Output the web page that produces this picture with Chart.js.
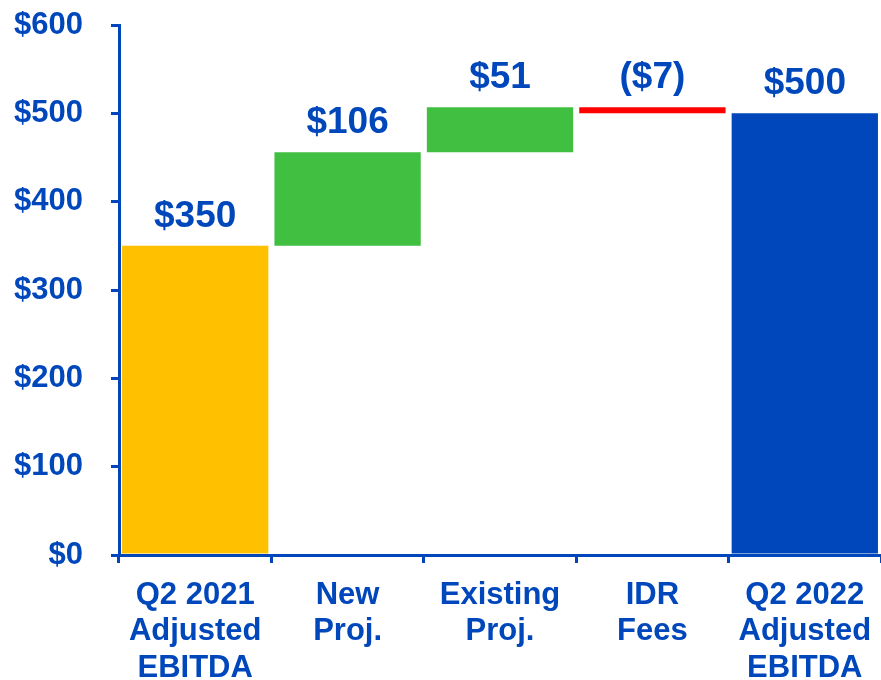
<!DOCTYPE html>
<html>
<head>
<meta charset="utf-8">
<script src="https://cdn.jsdelivr.net/npm/chart.js@4"></script>
<style>
  html, body { margin: 0; padding: 0; background: #fff; }
  #wrap { width: 881px; height: 680px; }
</style>
</head>
<body>
<div id="wrap"><canvas id="bridgeChart" width="881" height="680"></canvas></div>
<script>
    const categories = [
        ['Q2 2021', 'Adjusted', 'EBITDA'],
        ['New', 'Proj.'],
        ['Existing', 'Proj.'],
        ['IDR', 'Fees'],
        ['Q2 2022', 'Adjusted', 'EBITDA']
    ];
    // steps of the bridge, totals marked separately
    const steps = [350, 106, 51, -7, 500];
    const isTotal = [true, false, false, false, true];
    const valueLabels = ['$350', '$106', '$51', '($7)', '$500'];
    const yTicks = [0, 100, 200, 300, 400, 500, 600];

    const blue = '#0047BB';
    const barColors = ['#FFC000', '#40BF40', '#40BF40', '#FF0000', '#0047BB'];

    // floating ranges for the waterfall
    let running = 0;
    const ranges = steps.map(function (v, i) {
        if (isTotal[i]) {
            running = v;
            return [0, v];
        }
        const start = running;
        running += v;
        return [Math.min(start, running), Math.max(start, running)];
    });

    const labelPlugin = {
        id: 'valueLabels',
        afterDatasetsDraw(chart) {
            const ctx = chart.ctx;
            const meta = chart.getDatasetMeta(0);
            ctx.save();
            ctx.fillStyle = blue;
            ctx.font = 'bold 37px "Liberation Sans", Arial, sans-serif';
            ctx.textAlign = 'center';
            ctx.textBaseline = 'alphabetic';
            meta.data.forEach(function (bar, i) {
                const top = Math.min(bar.y, bar.base);
                ctx.fillText(valueLabels[i], bar.x, top - 19);
            });
            ctx.restore();
        }
    };

    const ctxBar = document.getElementById('bridgeChart').getContext('2d');
    const bridgeChart = new Chart(ctxBar, {
        type: 'bar',
        data: {
            labels: categories,
            datasets: [{
                data: ranges,
                backgroundColor: barColors,
                borderWidth: 0,
                barPercentage: 0.96,
                categoryPercentage: 1
            }]
        },
        options: {
            responsive: false,
            animation: false,
            layout: {
                padding: { top: 25, right: -3, left: 0, bottom: 0 }
            },
            plugins: {
                legend: { display: false },
                tooltip: { enabled: false }
            },
            scales: {
                x: {
                    grid: {
                        drawOnChartArea: false,
                        drawTicks: true,
                        tickLength: 8,
                        color: blue,
                        lineWidth: 3
                    },
                    border: { display: true, color: blue, width: 3 },
                    ticks: {
                        color: blue,
                        padding: 14,
                        maxRotation: 0,
                        font: { family: '"Liberation Sans", Arial, sans-serif', size: 31, weight: 'bold', lineHeight: 1.18 }
                    },
                    afterFit(scale) {
                        scale.height = 125;
                        scale.paddingLeft = 0;
                        scale.paddingRight = 0;
                        scale.paddingTop = 0;
                        scale.paddingBottom = 0;
                    }
                },
                y: {
                    min: 0,
                    max: 600,
                    afterBuildTicks(scale) {
                        scale.ticks = yTicks.map(function (v) { return { value: v }; });
                    },
                    grid: {
                        drawOnChartArea: false,
                        drawTicks: true,
                        tickLength: 8,
                        color: blue,
                        lineWidth: 3
                    },
                    border: { display: true, color: blue, width: 3 },
                    ticks: {
                        color: blue,
                        padding: 28,
                        font: { family: '"Liberation Sans", Arial, sans-serif', size: 31, weight: 'bold' },
                        callback: function (value) { return '$' + value; }
                    },
                    afterFit(scale) {
                        scale.width = 119;
                        scale.paddingLeft = 0;
                        scale.paddingRight = 0;
                        scale.paddingTop = 0;
                        scale.paddingBottom = 0;
                    }
                }
            }
        },
        plugins: [labelPlugin]
    });
</script>
</body>
</html>
